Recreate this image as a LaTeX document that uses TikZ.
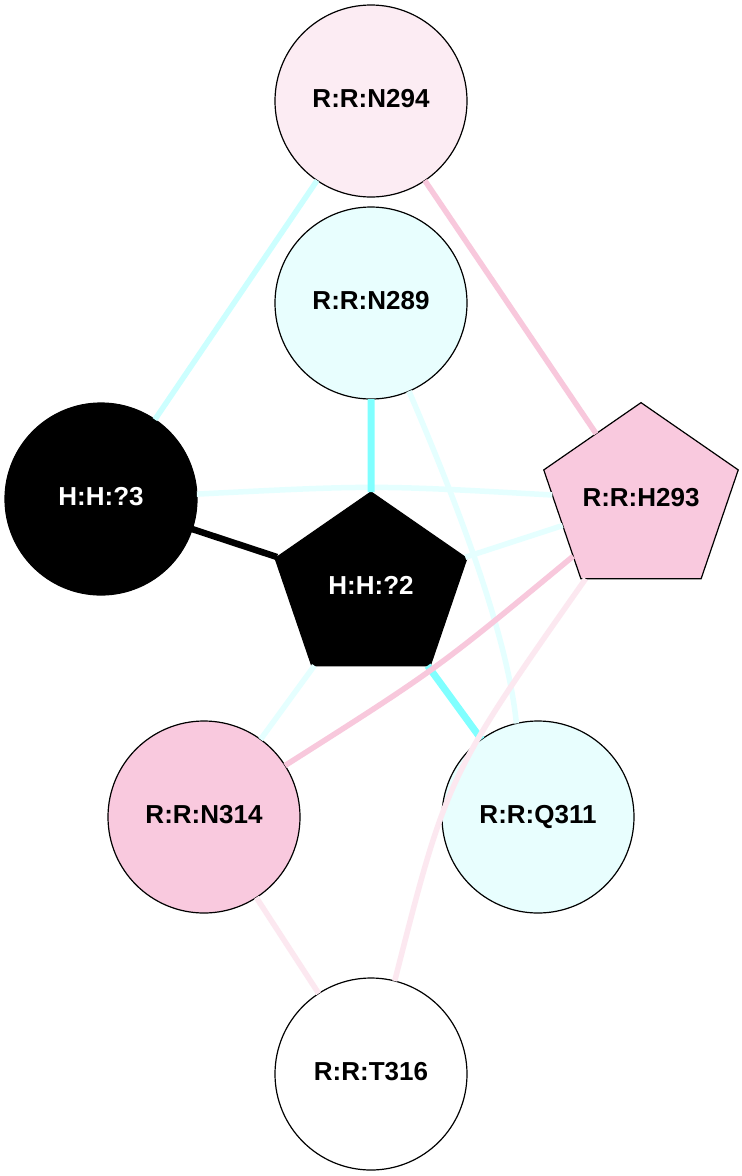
\documentclass[tikz,border=0pt]{standalone}
\usepackage{fontspec}
\setmainfont{Liberation Sans}
\usepackage{graphicx}
\usetikzlibrary{shapes.geometric}
\definecolor{cyA}{HTML}{CCFFFF}
\definecolor{cyB}{HTML}{E5FFFF}
\definecolor{cyC}{HTML}{80FFFF}
\definecolor{pkA}{HTML}{F8C8DC}
\definecolor{pkB}{HTML}{FCE8F0}
\definecolor{fillPk}{HTML}{F9C9DE}
\definecolor{fillPkL}{HTML}{FCECF3}
\definecolor{fillCy}{HTML}{E8FEFE}
\begin{document}
\begin{tikzpicture}[x=1pt,y=-1pt,
  base/.style={inner sep=0pt, outer sep=0pt, font=\fontsize{26}{30}\selectfont\bfseries, text depth=6pt, line width=1.2pt, draw=black},
  circ/.style={base, circle, minimum size=192pt},
  pent/.style={base, regular polygon, regular polygon sides=5, minimum size=192pt, xscale=1.05},
  hnode/.style={fill=black, text=white},
  thinE/.style={line width=5.5pt},
  thickE/.style={line width=7pt}]
\fill[white] (0,0) rectangle (742,1176);
\useasboundingbox (0,0) rectangle (742,1176);

\node[circ, fill=fillPkL] (N294) at (371,101) {R:R:N294};
\node[circ, fill=fillCy] (N289) at (371,303) {R:R:N289};
\node[circ, hnode] (H3) at (101,499) {H:H:?3};
\begin{scope}[shift={(371,588)}]
\node[pent, hnode] (H2) at (0,0) {\scalebox{0.952}[1]{H:H:?2}};
\end{scope}
\begin{scope}[shift={(641,500)}]
\node[pent, fill=fillPk] (H293) at (0,0) {\scalebox{0.952}[1]{R:R:H293}};
\end{scope}
\node[circ, fill=fillPk] (N314) at (204,817) {R:R:N314};
\node[circ, fill=fillCy] (Q311) at (538,817) {R:R:Q311};
\node[circ, fill=white] (T316) at (371,1074) {R:R:T316};

\draw[cyA, thinE] (N294) -- (H3);
\draw[cyB, thinE] (H3) .. controls (375,485) .. (H293);
\draw[cyB, thinE] (N289) .. controls (473,540) and (509,650) .. (Q311.103);
\draw[cyB, thinE] (H2) -- (H293);
\draw[cyB, thinE] (H2) -- (N314);
\draw[cyC, thickE] (N289) -- (H2);
\draw[cyC, thickE] (H2) -- (Q311);
\draw[black, line width=6.5pt] (H3) -- (H2);
\draw[pkA, thinE] (N294) -- (H293);
\draw[pkA, thinE] (H293) .. controls (437,669) .. (N314);
\draw[pkB, thinE] (H293) .. controls (447,776) .. (T316);
\draw[pkB, thinE] (N314) -- (T316);
\end{tikzpicture}
\end{document}
